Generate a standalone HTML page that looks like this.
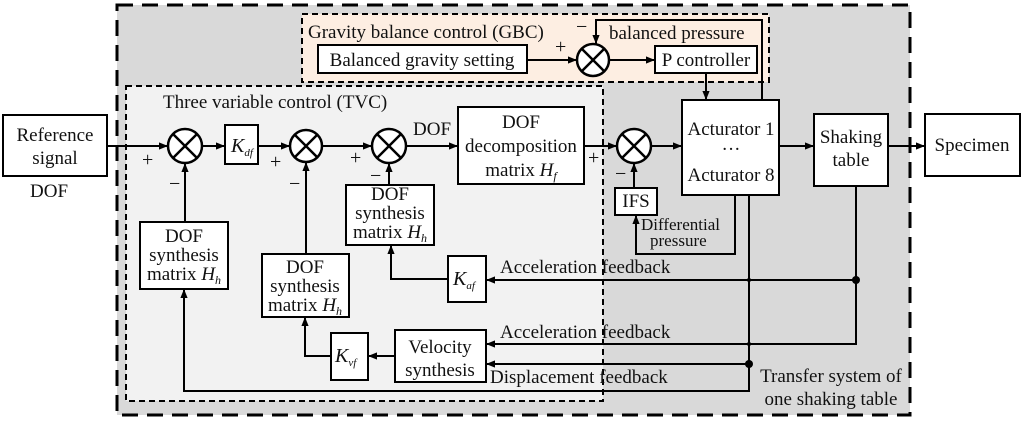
<!DOCTYPE html>
<html><head><meta charset="utf-8"><style>
html,body{margin:0;padding:0;background:#fff;}
svg, svg text, svg tspan{font-family:"Liberation Serif","Times New Roman","DejaVu Serif",serif;}
svg text{fill:#111;}
</style></head><body>
<svg width="1024" height="419" viewBox="0 0 1024 419" xmlns="http://www.w3.org/2000/svg" font-family="Liberation Serif, Times New Roman, DejaVu Serif, serif">
<defs>
<marker id="a" viewBox="0 0 10 10" refX="10" refY="5" markerWidth="9" markerHeight="9" markerUnits="userSpaceOnUse" orient="auto"><path d="M0,1 L10,5 L0,9 z" fill="#000"/></marker>
</defs>
<rect x="117" y="5" width="793" height="410" fill="#d9d9d9" stroke="#000" stroke-width="3" stroke-dasharray="16,9"/>
<rect x="302" y="14" width="467" height="68" fill="#fdeee2" stroke="#000" stroke-width="2" stroke-dasharray="6,4"/>
<rect x="126" y="86" width="477" height="315" fill="#f2f2f2" stroke="#000" stroke-width="2" stroke-dasharray="6,4"/>

<g stroke="#000" stroke-width="2" fill="#fff">
<rect x="3" y="115" width="104" height="61"/>
<rect x="225" y="125" width="33" height="39"/>
<rect x="458" y="107" width="126" height="77"/>
<rect x="615" y="188" width="42" height="27"/>
<rect x="682" y="100" width="97" height="95"/>
<rect x="814" y="114" width="74" height="72"/>
<rect x="925" y="114" width="95" height="62"/>
<rect x="318" y="45" width="209" height="28"/>
<rect x="655" y="46" width="102" height="27"/>
<rect x="140" y="222" width="88" height="67"/>
<rect x="262" y="254" width="87" height="63"/>
<rect x="346" y="185" width="88" height="60"/>
<rect x="448" y="256" width="38" height="46"/>
<rect x="395" y="330" width="91" height="52"/>
<rect x="331" y="333" width="37" height="47"/>
</g>
<g stroke="#000" stroke-width="2.5" fill="#fff">
<circle cx="185" cy="146" r="17"/><circle cx="306" cy="146" r="16"/>
<circle cx="389" cy="146" r="17"/><circle cx="634" cy="146" r="17"/>
<circle cx="593" cy="60" r="16"/>
</g>
<g stroke="#000" stroke-width="2.5">
<path d="M173,134 L197,158 M197,134 L173,158"/>
<path d="M295,135 L317,157 M317,135 L295,157"/>
<path d="M377,134 L401,158 M401,134 L377,158"/>
<path d="M622,134 L646,158 M646,134 L622,158"/>
<path d="M582,49 L604,71 M604,49 L582,71"/>
</g>
<g stroke="#000" stroke-width="2" fill="none" marker-end="url(#a)">
<path d="M107,146 L168,146"/>
<path d="M202,146 L225,146"/>
<path d="M258,146 L290,146"/>
<path d="M322,146 L372,146"/>
<path d="M406,146 L458,146"/>
<path d="M584,146 L617,146"/>
<path d="M651,146 L682,146"/>
<path d="M779,146 L814,146"/>
<path d="M888,146 L925,146"/>
<path d="M527,60 L577,60"/>
<path d="M609,60 L655,60"/>
<path d="M762,100 L762,20 L596,20 L596,44"/>
<path d="M706,73 L706,100"/>
<path d="M185,222 L185,163"/>
<path d="M306,254 L306,162"/>
<path d="M389,185 L389,163"/>
<path d="M634,188 L634,163"/>
<path d="M735,195 L735,254 L636,254 L636,215"/>
<path d="M448,279 L391,279 L391,245"/>
<path d="M856,186 L856,280 L486,280"/>
<path d="M856,280 L856,344 L486,344"/>
<path d="M749,195 L749,391 L184,391 L184,289"/>
<path d="M749,364 L486,364"/>
<path d="M331,356 L305,356 L305,317"/>
<path d="M395,356 L368,356"/>
</g>
<circle cx="856" cy="280" r="4"/><circle cx="749" cy="280" r="2"/><circle cx="749" cy="344" r="2"/><circle cx="749" cy="364" r="4"/>

<g font-size="19">
<text x="55" y="141" text-anchor="middle">Reference</text>
<text x="55" y="164" text-anchor="middle">signal</text>
<text x="30" y="197">DOF</text>
<text x="163" y="108">Three variable control (TVC)</text>
<text x="308" y="38">Gravity balance control (GBC)</text>
<text x="422" y="66" text-anchor="middle">Balanced gravity setting</text>
<text x="706" y="66" text-anchor="middle">P controller</text>
<text x="609" y="39">balanced pressure</text>
<text x="413" y="135">DOF</text>
<text x="521" y="128" text-anchor="middle">DOF</text>
<text x="521" y="152" text-anchor="middle">decomposition</text>
<text x="521" y="176" text-anchor="middle">matrix <tspan font-style="italic">H</tspan><tspan font-style="italic" font-size="12" dy="4">f</tspan></text>
<text x="636" y="207" text-anchor="middle">IFS</text>
<text x="731" y="135" text-anchor="middle">Acturator 1</text>
<text x="731" y="155" text-anchor="middle">···</text>
<text x="731" y="181" text-anchor="middle">Acturator 8</text>
<text x="851" y="143" text-anchor="middle">Shaking</text>
<text x="851" y="166" text-anchor="middle">table</text>
<text x="972" y="151" text-anchor="middle">Specimen</text>
<text x="184" y="242" text-anchor="middle">DOF</text>
<text x="184" y="261" text-anchor="middle">synthesis</text>
<text x="184" y="280" text-anchor="middle">matrix <tspan font-style="italic">H</tspan><tspan font-style="italic" font-size="12" dy="4">h</tspan></text>
<text x="305" y="273" text-anchor="middle">DOF</text>
<text x="305" y="292" text-anchor="middle">synthesis</text>
<text x="305" y="311" text-anchor="middle">matrix <tspan font-style="italic">H</tspan><tspan font-style="italic" font-size="12" dy="4">h</tspan></text>
<text x="390" y="200" text-anchor="middle">DOF</text>
<text x="390" y="219" text-anchor="middle">synthesis</text>
<text x="390" y="238" text-anchor="middle">matrix <tspan font-style="italic">H</tspan><tspan font-style="italic" font-size="12" dy="4">h</tspan></text>
<text x="440" y="353" text-anchor="middle">Velocity</text>
<text x="440" y="376" text-anchor="middle">synthesis</text>
<text x="500" y="273">Acceleration feedback</text>
<text x="500" y="338">Acceleration feedback</text>
<text x="490" y="383">Displacement feedback</text>
<text x="831" y="382" text-anchor="middle">Transfer system of</text>
<text x="831" y="405" text-anchor="middle">one shaking table</text>
<text x="641" y="230" font-size="17">Differential</text>
<text x="650" y="246" font-size="17">pressure</text>
</g>
<g font-style="italic">
<text x="231" y="152" font-size="20">K<tspan font-size="11" dy="4">df</tspan></text>
<text x="453" y="285" font-size="20">K<tspan font-size="11" dy="4">af</tspan></text>
<text x="335" y="362" font-size="20">K<tspan font-size="11" dy="4">vf</tspan></text>
</g>
<g font-size="20">
<text x="142" y="166">+</text><text x="169" y="190">−</text>
<text x="270" y="168">+</text><text x="289" y="190">−</text>
<text x="350" y="164">+</text><text x="370" y="182">−</text>
<text x="588" y="164">+</text><text x="615" y="180">−</text>
<text x="555" y="53">+</text><text x="576" y="33">−</text>
</g>
</svg>
</body></html>
